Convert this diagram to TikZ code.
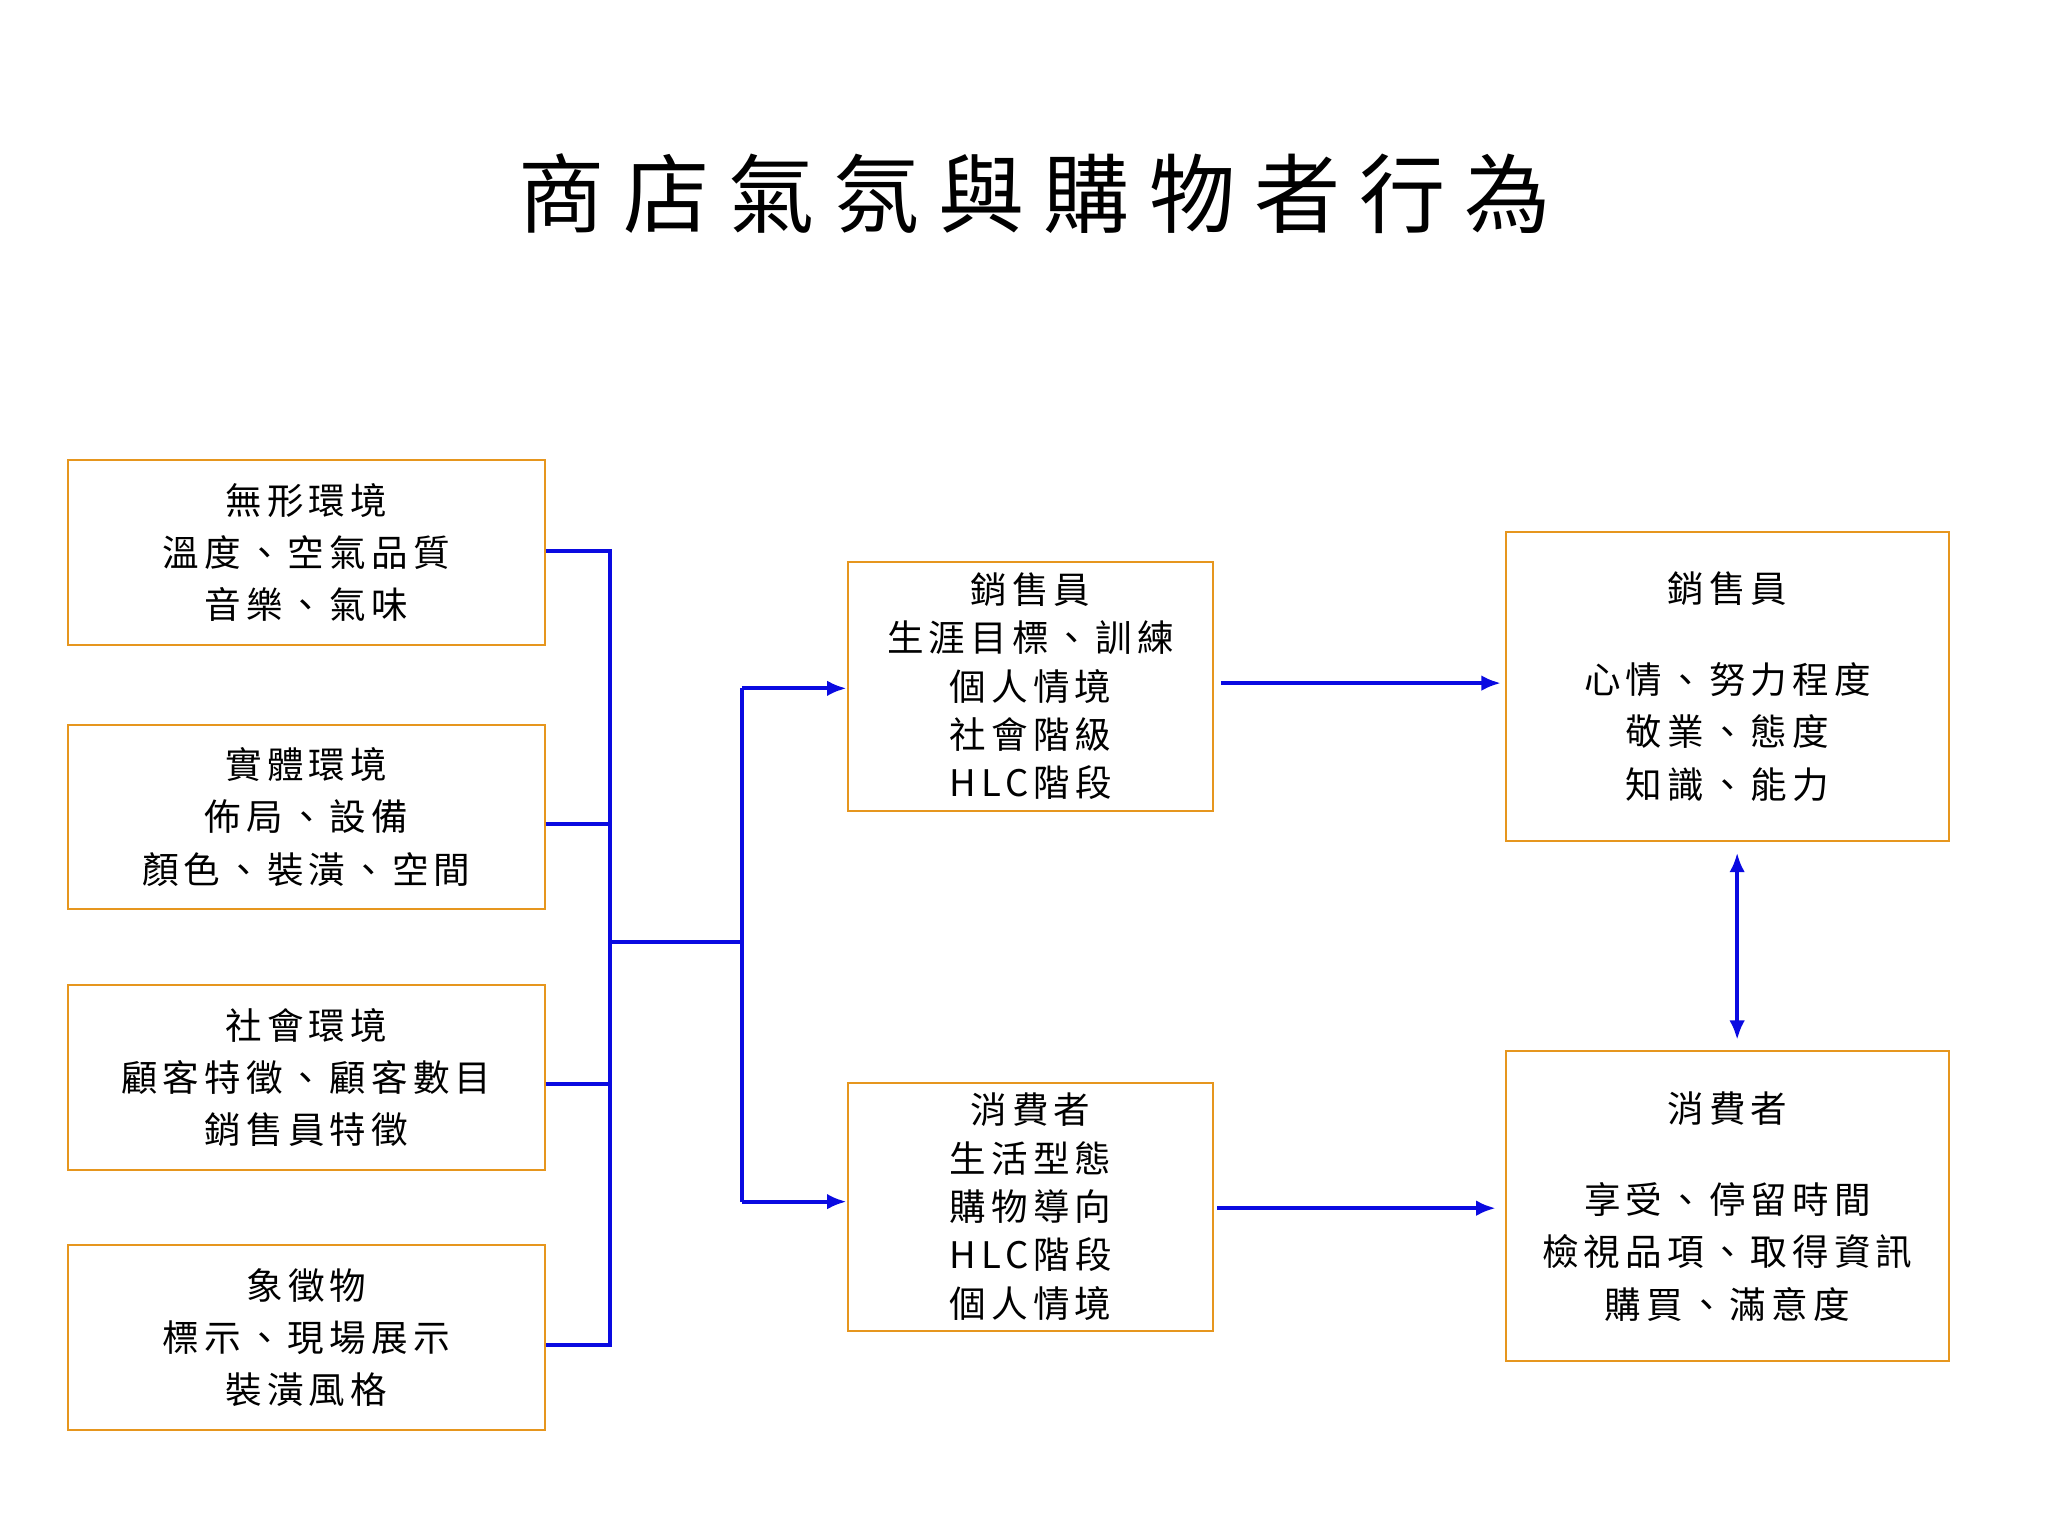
\documentclass[tikz,border=0pt]{standalone}
\usepackage{fontspec}
\setmainfont{Liberation Serif}
\newfontfamily\cjk{Noto Sans CJK TC}
\newfontfamily\cjks{Noto Sans CJK TC}[LetterSpace=14]
\newfontfamily\cjkt{Noto Sans CJK TC}[LetterSpace=22]
\usetikzlibrary{arrows.meta}
\definecolor{bord}{RGB}{230,150,30}
\definecolor{ln}{RGB}{10,10,225}
\begin{document}
\begin{tikzpicture}[x=1pt,y=-1pt,
  box/.style={draw=bord,line width=1.6pt,inner sep=0pt,font=\cjks\fontsize{28}{40}\selectfont,align=center},
  con/.style={draw=ln,line width=3pt},
  arr/.style={con,-{Latex[length=15pt,width=12pt]}}]
\useasboundingbox (0,0) rectangle (1568,1176);
\node[font=\cjkt\fontsize{66}{70}\selectfont] (title) at (792,148) {商店氣氛與購物者行為};
% left boxes
\node[box,minimum width=365pt,minimum height=142pt] (l1) at (234.5,423) {無形環境\\溫度、空氣品質\\音樂、氣味};
\node[box,minimum width=365pt,minimum height=141pt] (l2) at (234.5,625.5) {實體環境\\佈局、設備\\顏色、裝潢、空間};
\node[box,minimum width=365pt,minimum height=142pt] (l3) at (234.5,825) {社會環境\\顧客特徵、顧客數目\\銷售員特徵};
\node[box,minimum width=365pt,minimum height=142pt] (l4) at (234.5,1024) {象徵物\\標示、現場展示\\裝潢風格};
% middle boxes
\node[box,minimum width=280pt,minimum height=191pt,font=\cjks\fontsize{28}{37}\selectfont] (m1) at (789,525.5) {銷售員\\生涯目標、訓練\\個人情境\\社會階級\\HLC階段};
\node[box,minimum width=280pt,minimum height=190pt,font=\cjks\fontsize{28}{37}\selectfont] (m2) at (789,924) {消費者\\生活型態\\購物導向\\HLC階段\\個人情境};
% right boxes
\node[box,minimum width=339pt,minimum height=237pt] (r1) at (1322.5,525.5) {銷售員\\[30pt]心情、努力程度\\敬業、態度\\知識、能力};
\node[box,minimum width=339pt,minimum height=237pt] (r2) at (1322.5,923.5) {消費者\\[30pt]享受、停留時間\\檢視品項、取得資訊\\購買、滿意度};
% bus
\coordinate (bt) at (467,422);
\coordinate (bb) at (467,1030);
\coordinate (bm) at (467,721);
\coordinate (cm) at (568,721);
\coordinate (ct) at (568,527);
\coordinate (cb) at (568,920);
\draw[con] (l1.east|-bt) -- (bt) -- (bb) -- (l4.east|-bb);
\draw[con] (l2.east|-0,631) -- (467,631);
\draw[con] (l3.east|-0,830) -- (467,830);
\draw[con] (bm) -- (cm);
\draw[con] (ct) -- (cb);
\draw[arr] (ct) -- (m1.west|-ct);
\draw[arr] (cb) -- (m2.west|-cb);
\draw[arr] ([xshift=5pt]m1.east|-0,523) -- ([xshift=-3pt]r1.west|-0,523);
\draw[arr] ([xshift=2pt]m2.east|-0,925) -- ([xshift=-7pt]r2.west|-0,925);
\draw[con,{Latex[length=15pt,width=12pt]}-{Latex[length=15pt,width=12pt]}] ([yshift=-8pt]r1.south-|1330,0) -- ([yshift=8pt]r2.north-|1330,0);
\end{tikzpicture}
\end{document}
